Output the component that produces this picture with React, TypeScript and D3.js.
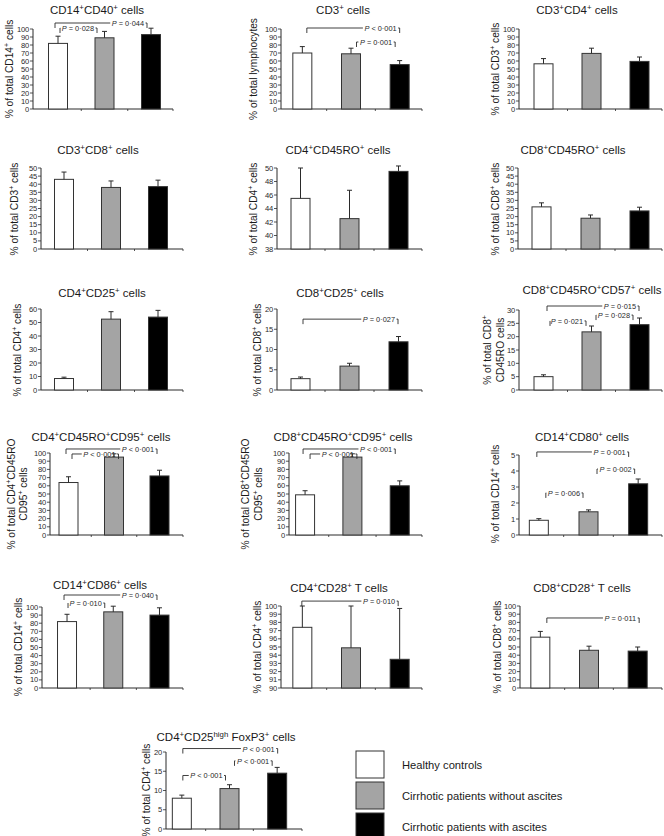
import React, { useEffect, useRef } from "react";
import * as d3 from "d3";

const groups = ["Healthy controls", "Cirrhotic patients without ascites", "Cirrhotic patients with ascites"];
const barFills = ["#ffffff", "#a4a4a4", "#000000"];

const cd14cd40Mean = [82, 89, 93];
const cd14cd40Err = [9, 8, 8];
const cd3Mean = [70, 69, 55.5];
const cd3Err = [8, 7, 5];
const cd3cd4Mean = [56.5, 69.5, 59.5];
const cd3cd4Err = [6.5, 6.5, 5.5];
const cd3cd8Mean = [43, 38, 38.5];
const cd3cd8Err = [4.5, 4, 4];
const cd4cd45roMean = [45.5, 42.5, 49.5];
const cd4cd45roErr = [4.5, 4.2, 0.8];
const cd8cd45roMean = [26, 19, 23.5];
const cd8cd45roErr = [2.5, 2, 2.3];
const cd4cd25Mean = [8.5, 52.5, 54];
const cd4cd25Err = [1, 5.5, 5];
const cd8cd25Mean = [2.8, 5.9, 11.9];
const cd8cd25Err = [0.4, 0.7, 1.3];
const cd57Mean = [5, 21.8, 24.5];
const cd57Err = [0.7, 2.2, 2.5];
const cd4cd95Mean = [64, 95, 72];
const cd4cd95Err = [7, 4, 7];
const cd8cd95Mean = [49, 95, 60];
const cd8cd95Err = [5, 4, 6];
const cd14cd80Mean = [0.92, 1.45, 3.2];
const cd14cd80Err = [0.1, 0.12, 0.3];
const cd14cd86Mean = [82, 94, 90];
const cd14cd86Err = [9, 7, 9];
const cd4cd28Mean = [97.4, 94.9, 93.5];
const cd4cd28Err = [2.6, 5.1, 6.2];
const cd8cd28Mean = [62, 46, 45];
const cd8cd28Err = [7, 5, 5];
const foxp3Mean = [8, 10.5, 14.5];
const foxp3Err = [0.8, 1, 1.5];

type Bracket = { a: number; b: number; y: number; label: string; oa: number; ob: number };
type Layout = { ax: number; axEnd: number; bx0: number; bx1: number; yTop: number; yBot: number; tx: number; ty: number; lx: number[]; ly: number };
type Panel = { title: string; ylabel: string[]; mean: number[]; err: number[]; domain: [number, number]; step: number; brackets: Bracket[]; L: Layout };

const panels: Panel[] = [
  { title: "CD14^+CD40^+ cells", ylabel: ["% of total CD14^+ cells"], mean: cd14cd40Mean, err: cd14cd40Err, domain: [0, 100], step: 10,
    brackets: [ { a: 0, b: 1, y: 101.25, label: "P = 0·028", oa: 2, ob: -7.5 }, { a: 0, b: 2, y: 107.5, label: "P = 0·044", oa: -3, ob: -4 } ],
    L: { ax: 33, axEnd: 173, bx0: 34.75, bx1: 174.25, yTop: 29, yBot: 109, tx: 97, ty: 10, lx: [9.5], ly: 69 } },
  { title: "CD3^+ cells", ylabel: ["% of total lymphocytes"], mean: cd3Mean, err: cd3Err, domain: [0, 100], step: 10,
    brackets: [ { a: 0, b: 2, y: 101.25, label: "P < 0·001", oa: 4.5, ob: 0 }, { a: 1, b: 2, y: 83.75, label: "P = 0·001", oa: 5.5, ob: -4.5 } ],
    L: { ax: 281, axEnd: 422, bx0: 278, bx1: 424, yTop: 29, yBot: 109, tx: 343, ty: 10, lx: [253], ly: 69 } },
  { title: "CD3^+CD4^+ cells", ylabel: ["% of total CD3^+ cells"], mean: cd3cd4Mean, err: cd3cd4Err, domain: [0, 100], step: 10, brackets: [],
    L: { ax: 519, axEnd: 662, bx0: 519.5, bx1: 663.5, yTop: 29, yBot: 109, tx: 577, ty: 10, lx: [495], ly: 69 } },
  { title: "CD3^+CD8^+ cells", ylabel: ["% of total CD3^+ cells"], mean: cd3cd8Mean, err: cd3cd8Err, domain: [0, 50], step: 5, brackets: [],
    L: { ax: 41, axEnd: 183, bx0: 40.5, bx1: 181.5, yTop: 168, yBot: 249, tx: 98, ty: 150, lx: [14], ly: 209 } },
  { title: "CD4^+CD45RO^+ cells", ylabel: ["% of total CD4^+ cells"], mean: cd4cd45roMean, err: cd4cd45roErr, domain: [38, 50], step: 2, brackets: [],
    L: { ax: 277, axEnd: 422, bx0: 276, bx1: 423, yTop: 168, yBot: 249, tx: 338, ty: 150, lx: [253], ly: 209 } },
  { title: "CD8^+CD45RO^+ cells", ylabel: ["% of total CD8^+ cells"], mean: cd8cd45roMean, err: cd8cd45roErr, domain: [0, 50], step: 5, brackets: [],
    L: { ax: 518, axEnd: 662, bx0: 517, bx1: 664, yTop: 168, yBot: 249, tx: 573, ty: 150, lx: [495], ly: 209 } },
  { title: "CD4^+CD25^+ cells", ylabel: ["% of total CD4^+ cells"], mean: cd4cd25Mean, err: cd4cd25Err, domain: [0, 60], step: 10, brackets: [],
    L: { ax: 41, axEnd: 183, bx0: 40.5, bx1: 181.5, yTop: 309, yBot: 390, tx: 102, ty: 293, lx: [17], ly: 350 } },
  { title: "CD8^+CD25^+ cells", ylabel: ["% of total CD8^+ cells"], mean: cd8cd25Mean, err: cd8cd25Err, domain: [0, 20], step: 5,
    brackets: [ { a: 0, b: 2, y: 17.5, label: "P = 0·027", oa: 2.5, ob: -0.5 } ],
    L: { ax: 277, axEnd: 422, bx0: 276, bx1: 423, yTop: 309, yBot: 390, tx: 340, ty: 293, lx: [257], ly: 350 } },
  { title: "CD8^+CD45RO^+CD57^+ cells", ylabel: ["% of total CD8^+", "CD45RO cells"], mean: cd57Mean, err: cd57Err, domain: [0, 30], step: 5,
    brackets: [ { a: 0, b: 2, y: 31.5, label: "P = 0·015", oa: 3.5, ob: -0.5 }, { a: 0, b: 1, y: 25.9, label: "P = 0·021", oa: 6.5, ob: -5.5 }, { a: 1, b: 2, y: 28.1, label: "P = 0·028", oa: 4.5, ob: -6.5 } ],
    L: { ax: 519, axEnd: 662, bx0: 519.5, bx1: 663.5, yTop: 310, yBot: 390, tx: 592, ty: 290, lx: [487, 500], ly: 350 } },
  { title: "CD4^+CD45RO^+CD95^+ cells", ylabel: ["% of total CD4^+CD45RO", "CD95^+ cells"], mean: cd4cd95Mean, err: cd4cd95Err, domain: [0, 100], step: 10,
    brackets: [ { a: 0, b: 2, y: 104.9, label: "P < 0·001", oa: -2.5, ob: -2.5 }, { a: 0, b: 1, y: 98.8, label: "P < 0·001", oa: 3.5, ob: 4.5 } ],
    L: { ax: 50, axEnd: 183, bx0: 45.75, bx1: 182.25, yTop: 453, yBot: 535, tx: 101, ty: 437, lx: [11, 23], ly: 494 } },
  { title: "CD8^+CD45RO^+CD95^+ cells", ylabel: ["% of total CD8^+CD45RO", "CD95^+ cells"], mean: cd8cd95Mean, err: cd8cd95Err, domain: [0, 100], step: 10,
    brackets: [ { a: 0, b: 2, y: 104.9, label: "P < 0·001", oa: -2, ob: -4.5 }, { a: 0, b: 1, y: 98.8, label: "P < 0·001", oa: 5, ob: 4.5 } ],
    L: { ax: 289, axEnd: 422, bx0: 281.4, bx1: 423.4, yTop: 453, yBot: 535, tx: 343, ty: 437, lx: [245, 258], ly: 494 } },
  { title: "CD14^+CD80^+ cells", ylabel: ["% of total CD14^+ cells"], mean: cd14cd80Mean, err: cd14cd80Err, domain: [0, 5], step: 1,
    brackets: [ { a: 0, b: 2, y: 5.19, label: "P = 0·001", oa: -2, ob: -9.5 }, { a: 0, b: 1, y: 2.63, label: "P = 0·006", oa: 7, ob: -5.5 }, { a: 1, b: 2, y: 4.125, label: "P = 0·002", oa: 8.5, ob: -3.5 } ],
    L: { ax: 519, axEnd: 662, bx0: 514, bx1: 663, yTop: 455, yBot: 535, tx: 582, ty: 437, lx: [495], ly: 494 } },
  { title: "CD14^+CD86^+ cells", ylabel: ["% of total CD14^+ cells"], mean: cd14cd86Mean, err: cd14cd86Err, domain: [0, 100], step: 10,
    brackets: [ { a: 0, b: 2, y: 114.8, label: "P = 0·040", oa: -3, ob: -2.5 }, { a: 0, b: 1, y: 104.9, label: "P = 0·010", oa: 1, ob: -8.5 } ],
    L: { ax: 42, axEnd: 183, bx0: 43.9, bx1: 182.6, yTop: 607, yBot: 688, tx: 100, ty: 585, lx: [18], ly: 647 } },
  { title: "CD4^+CD28^+ T cells", ylabel: ["% of total CD4^+ cells"], mean: cd4cd28Mean, err: cd4cd28Err, domain: [90, 100], step: 1,
    brackets: [ { a: 0, b: 2, y: 100.6, label: "P = 0·010", oa: -0.5, ob: -1.5 } ],
    L: { ax: 281, axEnd: 422, bx0: 278, bx1: 424, yTop: 606, yBot: 688, tx: 339, ty: 588, lx: [257], ly: 647 } },
  { title: "CD8^+CD28^+ T cells", ylabel: ["% of total CD8^+ cells"], mean: cd8cd28Mean, err: cd8cd28Err, domain: [0, 100], step: 10,
    brackets: [ { a: 0, b: 2, y: 85.4, label: "P = 0·011", oa: 6.5, ob: 1.5 } ],
    L: { ax: 520, axEnd: 662, bx0: 516, bx1: 662, yTop: 606, yBot: 688, tx: 582, ty: 588, lx: [497], ly: 647 } },
  { title: "CD4^+CD25^{high} FoxP3^+ cells", ylabel: ["% of total CD4^+ cells"], mean: foxp3Mean, err: foxp3Err, domain: [0, 20], step: 5,
    brackets: [ { a: 0, b: 2, y: 20.9, label: "P < 0·001", oa: 1, ob: 0.5 }, { a: 0, b: 1, y: 13.9, label: "P < 0·001", oa: 1, ob: -4 }, { a: 1, b: 2, y: 17.7, label: "P < 0·001", oa: 5, ob: -5 } ],
    L: { ax: 166, axEnd: 302, bx0: 158, bx1: 301, yTop: 752, yBot: 829, tx: 226, ty: 737, lx: [146], ly: 790 } },
];

const FONT = "'Liberation Sans', Arial, Helvetica, sans-serif";
const INK = "#2a2a2a";

function richText(sel: any, s: string, fs: number) {
  const re = /\^\{([^}]*)\}|\^(.)/g;
  let last = 0;
  let m: RegExpExecArray | null;
  let raised = false;
  const sh = fs * 0.38;
  while ((m = re.exec(s)) !== null) {
    if (m.index > last) {
      sel.append("tspan").attr("dy", raised ? sh : 0).text(s.slice(last, m.index));
      raised = false;
    }
    sel.append("tspan").attr("dy", raised ? 0 : -sh).attr("font-size", fs * 0.68).text(m[1] !== undefined ? m[1] : m[2]);
    raised = true;
    last = re.lastIndex;
  }
  if (last < s.length) {
    sel.append("tspan").attr("dy", raised ? sh : 0).text(s.slice(last));
  }
}

function drawPanel(root: any, p: Panel) {
  const L = p.L;
  const g = root.append("g");
  const y = d3.scaleLinear().domain(p.domain).range([L.yBot, L.yTop]);
  const x = d3.scaleBand<number>().domain([0, 1, 2]).range([L.bx0, L.bx1]);
  const cx = (i: number) => (x(i) as number) + x.bandwidth() / 2;
  const bw = 19;

  g.append("line").attr("x1", L.ax).attr("x2", L.ax).attr("y1", L.yBot).attr("y2", L.yTop).attr("stroke", INK).attr("stroke-width", 1);
  const ticks = d3.range(p.domain[0], p.domain[1] + p.step / 2, p.step);
  ticks.forEach((t) => {
    g.append("line").attr("x1", L.ax - 3).attr("x2", L.ax).attr("y1", y(t)).attr("y2", y(t)).attr("stroke", INK).attr("stroke-width", 0.8);
    g.append("text").attr("x", L.ax - 4).attr("y", y(t)).attr("text-anchor", "end").attr("dominant-baseline", "central")
      .attr("font-size", 7.6).attr("letter-spacing", -0.2).attr("fill", INK).text(d3.format("d")(t));
  });
  g.append("line").attr("x1", L.ax).attr("x2", L.axEnd).attr("y1", L.yBot).attr("y2", L.yBot).attr("stroke", INK).attr("stroke-width", 1);
  [1, 2].forEach((i) => {
    const bx = x(i) as number;
    g.append("line").attr("x1", bx).attr("x2", bx).attr("y1", L.yBot).attr("y2", L.yBot + 2).attr("stroke", INK).attr("stroke-width", 0.8);
  });
  g.append("line").attr("x1", L.axEnd).attr("x2", L.axEnd).attr("y1", L.yBot).attr("y2", L.yBot + 2).attr("stroke", INK).attr("stroke-width", 0.8);

  p.mean.forEach((v, i) => {
    g.append("rect").attr("x", cx(i) - bw / 2).attr("y", y(v)).attr("width", bw).attr("height", L.yBot - y(v))
      .attr("fill", barFills[i]).attr("stroke", "#333").attr("stroke-width", 1);
  });
  p.mean.forEach((v, i) => {
    const top = y(v + p.err[i]);
    g.append("line").attr("x1", cx(i)).attr("x2", cx(i)).attr("y1", y(v)).attr("y2", top).attr("stroke", INK).attr("stroke-width", 1);
    g.append("line").attr("x1", cx(i) - 2.5).attr("x2", cx(i) + 2.5).attr("y1", top).attr("y2", top).attr("stroke", INK).attr("stroke-width", 1);
  });

  p.brackets.forEach((b) => {
    const x1 = cx(b.a) + b.oa;
    const x2 = cx(b.b) + b.ob;
    const yy = y(b.y);
    const leg = 5;
    const t = g.append("text").attr("x", x2 - 3).attr("y", yy).attr("text-anchor", "end").attr("dominant-baseline", "central")
      .attr("font-size", 7.4).attr("fill", INK);
    t.append("tspan").attr("font-style", "italic").text(b.label.slice(0, 1));
    t.append("tspan").text(b.label.slice(1));
    const w = (t.node() as SVGTextElement).getComputedTextLength();
    const textStart = x2 - 3 - w;
    g.append("line").attr("x1", x1).attr("x2", Math.max(x1, textStart - 1.5)).attr("y1", yy).attr("y2", yy).attr("stroke", INK).attr("stroke-width", 0.9);
    g.append("line").attr("x1", x2 - 1.5).attr("x2", x2).attr("y1", yy).attr("y2", yy).attr("stroke", INK).attr("stroke-width", 0.9);
    g.append("line").attr("x1", x1).attr("x2", x1).attr("y1", yy).attr("y2", yy + leg).attr("stroke", INK).attr("stroke-width", 0.9);
    g.append("line").attr("x1", x2).attr("x2", x2).attr("y1", yy).attr("y2", yy + leg).attr("stroke", INK).attr("stroke-width", 0.9);
  });

  const tt = g.append("text").attr("x", L.tx).attr("y", L.ty + 4).attr("text-anchor", "middle").attr("font-size", 11.5).attr("fill", "#1a1a1a");
  richText(tt, p.title, 11.5);

  p.ylabel.forEach((line, k) => {
    const lt = g.append("text").attr("transform", `translate(${L.lx[k] + 3.5},${L.ly}) rotate(-90)`).attr("text-anchor", "middle")
      .attr("font-size", 10.2).attr("fill", "#1a1a1a");
    richText(lt, line, 10.2);
  });
}

export default function App() {
  const ref = useRef<SVGSVGElement | null>(null);
  useEffect(() => {
    const svg = d3.select(ref.current);
    svg.selectAll("*").remove();
    svg.append("rect").attr("width", 664).attr("height", 836).attr("fill", "#fff");
    const root = svg.append("g").attr("font-family", FONT);
    panels.forEach((p) => drawPanel(root, p));

    const leg = root.append("g");
    const boxY = d3.scalePoint<number>().domain([0, 1, 2]).range([751, 813]);
    groups.forEach((gname, i) => {
      const yy = boxY(i) as number;
      leg.append("rect").attr("x", 356).attr("y", yy).attr("width", 28).attr("height", 27)
        .attr("fill", barFills[i]).attr("stroke", "#333").attr("stroke-width", 1);
      leg.append("text").attr("x", 402).attr("y", yy + 13.5).attr("dominant-baseline", "central").attr("font-size", 11.2)
        .attr("fill", "#1a1a1a").text(gname);
    });
  }, []);
  return (
    <svg ref={ref} width={664} height={836} style={{ position: "absolute", left: 0, top: 0, display: "block" }} />
  );
}
